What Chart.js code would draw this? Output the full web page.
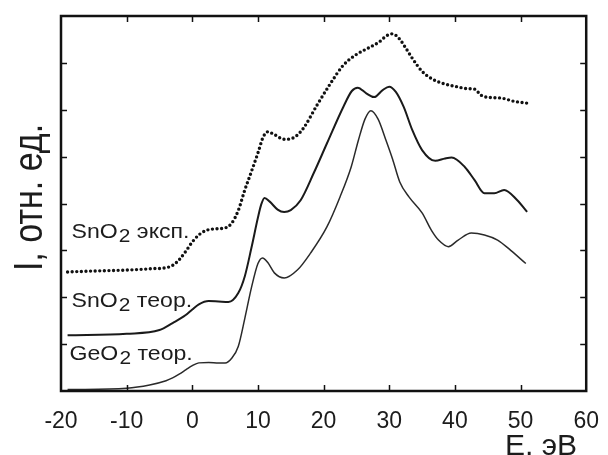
<!DOCTYPE html>
<html>
<head>
<meta charset="utf-8">
<script src="https://cdn.jsdelivr.net/npm/chart.js@4.4.1/dist/chart.umd.min.js"></script>
<style>
  html, body { margin: 0; padding: 0; background: #fff; }
  #wrap { width: 608px; height: 455px; }
</style>
</head>
<body>
<div id="wrap"><canvas id="spectra" width="608" height="455"></canvas></div>
<script>
// SnO2 experiment (dotted curve)
const energyExp = [-19, -15, -10, -6, -4, -3, -2, -1, 0, 1, 2, 3.5, 5, 6, 7, 8, 9, 10, 10.8, 11.5, 12.5, 14, 15, 16, 17, 19, 21, 23, 25, 27, 28.5, 29.5, 30.5, 31.5, 32.5, 33.5, 35, 36.5, 38, 40, 42, 43, 44, 45.5, 47, 49, 51];
const intensityExp = [2.54, 2.56, 2.58, 2.61, 2.63, 2.68, 2.80, 2.98, 3.18, 3.33, 3.42, 3.46, 3.48, 3.58, 3.85, 4.29, 4.68, 5.08, 5.42, 5.53, 5.47, 5.37, 5.38, 5.46, 5.62, 6.10, 6.55, 6.95, 7.18, 7.33, 7.45, 7.57, 7.62, 7.52, 7.32, 7.10, 6.82, 6.66, 6.57, 6.50, 6.45, 6.44, 6.31, 6.26, 6.25, 6.18, 6.14];

// SnO2 theory
const energySnO2 = [-19, -10, -5, -3, -1, 0, 1, 2.5, 4, 5.5, 7, 8, 9, 10, 10.5, 11, 11.8, 13, 14, 15, 16.5, 18.5, 20.5, 23, 24.3, 25.2, 26.5, 27.7, 29, 30, 31, 32.2, 33.5, 35, 37, 38.5, 39.5, 41.5, 43, 44.5, 46, 47.5, 49.5, 51];
const intensitySnO2 = [1.19, 1.22, 1.30, 1.45, 1.62, 1.74, 1.85, 1.92, 1.91, 1.90, 2.09, 2.45, 3.05, 3.70, 3.98, 4.12, 4.04, 3.87, 3.82, 3.86, 4.07, 4.65, 5.28, 6.06, 6.40, 6.47, 6.35, 6.27, 6.42, 6.49, 6.38, 6.06, 5.57, 5.14, 4.91, 4.96, 4.98, 4.78, 4.50, 4.22, 4.22, 4.29, 4.07, 3.82];

// GeO2 theory
const energyGeO2 = [-19, -10, -6.5, -4, -3, -2, -1, 0, 1, 2.5, 4, 5, 6, 7, 8, 9, 10, 10.7, 11.5, 12.5, 14, 16, 18, 20.5, 22.5, 24.2, 25.3, 26.3, 27.2, 28.3, 29.5, 30.5, 31.6, 33, 35, 36.5, 37.5, 39, 40.5, 42.5, 44.5, 46.5, 48.5, 50.8];
const intensityGeO2 = [0.03, 0.06, 0.13, 0.22, 0.28, 0.36, 0.45, 0.54, 0.60, 0.61, 0.60, 0.60, 0.70, 0.95, 1.55, 2.20, 2.72, 2.84, 2.74, 2.52, 2.41, 2.58, 2.94, 3.50, 4.14, 4.78, 5.35, 5.80, 5.98, 5.80, 5.35, 4.95, 4.46, 4.14, 3.80, 3.41, 3.22, 3.08, 3.22, 3.37, 3.33, 3.22, 3.00, 2.72];

const xTicks = [-20, -10, 0, 10, 20, 30, 40, 50, 60];
const yTicks = [1, 2, 3, 4, 5, 6, 7];

// label text, anchor energy, anchor intensity (baseline)
const curveLabels = [
    ["SnO", "2", " эксп.", -18.4, 3.26],
    ["SnO", "2", " теор.", -18.4, 1.79],
    ["GeO", "2", " теор.", -18.7, 0.66],
];

const toPoints = (xs, ys) => xs.map((x, i) => ({ x: x, y: ys[i] }));

const textColor = "#1c1c1c";
const fontFamily = "'Liberation Sans', Arial, sans-serif";

const framePlugin = {
    id: "framePlugin",
    afterDraw(chart) {
        const ctx = chart.ctx;
        const area = chart.chartArea;
        const xs = chart.scales.x;
        const ys = chart.scales.y;
        const tickLen = 6;

        ctx.save();
        ctx.strokeStyle = "#111";
        ctx.lineWidth = 1.5;
        ctx.beginPath();
        xTicks.slice(1, -1).forEach((v) => {
            const px = Math.round(xs.getPixelForValue(v)) + 0.5;
            ctx.moveTo(px, area.bottom);
            ctx.lineTo(px, area.bottom - tickLen);
            ctx.moveTo(px, area.top);
            ctx.lineTo(px, area.top + tickLen);
        });
        yTicks.forEach((v) => {
            const py = Math.round(ys.getPixelForValue(v)) + 0.5;
            ctx.moveTo(area.left, py);
            ctx.lineTo(area.left + tickLen, py);
            ctx.moveTo(area.right, py);
            ctx.lineTo(area.right - tickLen, py);
        });
        ctx.stroke();

        ctx.lineWidth = 2.5;
        ctx.strokeRect(area.left, area.top, area.right - area.left, area.bottom - area.top);

        // curve labels, slightly widened like the scanned original
        ctx.fillStyle = textColor;
        ctx.textBaseline = "alphabetic";
        ctx.textAlign = "left";
        curveLabels.forEach(([a, sub, b, ex, ey]) => {
            ctx.save();
            ctx.translate(xs.getPixelForValue(ex), ys.getPixelForValue(ey));
            ctx.scale(1.1, 1);
            let px = 0;
            ctx.font = "21px " + fontFamily;
            ctx.fillText(a, px, 0);
            px += ctx.measureText(a).width;
            ctx.font = "19px " + fontFamily;
            ctx.fillText(sub, px + 1, 4);
            px += ctx.measureText(sub).width + 1;
            ctx.font = "21px " + fontFamily;
            ctx.fillText(b, px, 0);
            ctx.restore();
        });

        // y axis title
        ctx.save();
        ctx.translate(42, (area.top + area.bottom) / 2 - 6);
        ctx.rotate(-Math.PI / 2);
        ctx.scale(1, 1.2);
        ctx.textAlign = "center";
        ctx.font = "34px " + fontFamily;
        ctx.fillText("I, отн. ед.", 0, 0);
        ctx.restore();

        // x axis title
        ctx.textAlign = "right";
        ctx.font = "30px " + fontFamily;
        ctx.fillText("E, эВ", 577, 455);
        ctx.restore();
    },
};

new Chart(document.getElementById("spectra"), {
    type: "scatter",
    data: {
        datasets: [
            {
                label: "SnO2 эксп.",
                data: toPoints(energyExp, intensityExp),
                showLine: true,
                borderColor: "#111",
                borderWidth: 3.4,
                borderDash: [0, 4.6],
                borderCapStyle: "round",
                cubicInterpolationMode: "monotone",
                pointRadius: 0,
            },
            {
                label: "SnO2 теор.",
                data: toPoints(energySnO2, intensitySnO2),
                showLine: true,
                borderColor: "#1a1a1a",
                borderWidth: 2,
                cubicInterpolationMode: "monotone",
                pointRadius: 0,
            },
            {
                label: "GeO2 теор.",
                data: toPoints(energyGeO2, intensityGeO2),
                showLine: true,
                borderColor: "#2a2a2a",
                borderWidth: 1.5,
                cubicInterpolationMode: "monotone",
                pointRadius: 0,
            },
        ],
    },
    options: {
        responsive: false,
        animation: false,
        layout: { padding: { top: 16, right: 15, left: 0, bottom: 0 } },
        plugins: {
            legend: { display: false },
            tooltip: { enabled: false },
        },
        scales: {
            x: {
                type: "linear",
                min: -20,
                max: 60,
                afterBuildTicks: (scale) => {
                    scale.ticks = xTicks.map((v) => ({ value: v }));
                },
                afterFit: (scale) => {
                    scale.height = 64;
                },
                grid: { display: false },
                border: { display: false },
                ticks: {
                    padding: 9,
                    color: textColor,
                    font: { size: 23, family: fontFamily },
                },
            },
            y: {
                type: "linear",
                min: 0,
                max: 8,
                afterFit: (scale) => {
                    scale.width = 61;
                },
                grid: { display: false },
                border: { display: false },
                ticks: { display: false },
            },
        },
    },
    plugins: [framePlugin],
});
</script>
</body>
</html>
